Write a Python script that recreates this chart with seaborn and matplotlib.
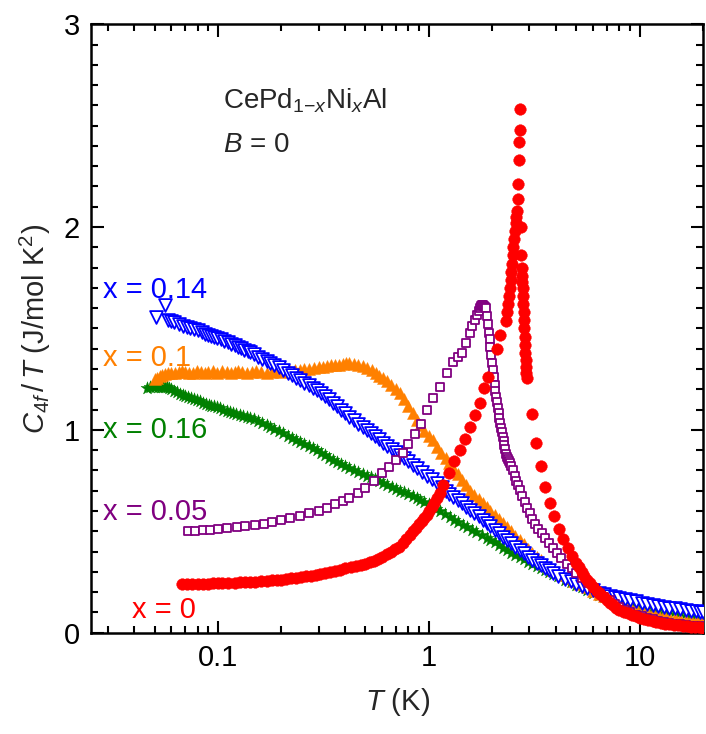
import numpy as np
import pandas as pd
import seaborn as sns
import matplotlib
matplotlib.use("Agg")
import matplotlib.pyplot as plt
from matplotlib import ticker

# -----------------------------------------------------------------------------
# Data: C_4f/T (J/mol K^2) vs T (K)
# -----------------------------------------------------------------------------

# x = 0 (filled circles)
T_x000 = [0.0675, 0.071, 0.075, 0.08, 0.085, 0.09, 0.095, 0.1, 0.105, 0.112,
          0.12, 0.127, 0.135, 0.142, 0.15, 0.16, 0.17, 0.18, 0.19, 0.2,
          0.21, 0.222, 0.235, 0.247, 0.26, 0.275, 0.29, 0.305, 0.32, 0.34,
          0.36, 0.38, 0.40, 0.425, 0.45, 0.475, 0.50, 0.525, 0.55, 0.575,
          0.60, 0.63, 0.66, 0.69, 0.72, 0.75, 0.78, 0.81, 0.84, 0.87,
          0.90, 0.925, 0.95, 0.975, 1.00, 1.03, 1.06, 1.095, 1.13, 1.17,
          1.24, 1.32, 1.40, 1.48, 1.56, 1.65, 1.75, 1.82, 1.91, 2.10,
          2.17, 2.32, 2.35, 2.38, 2.40, 2.42, 2.44, 2.46, 2.48,
          2.50, 2.52, 2.54, 2.56, 2.58, 2.60, 2.62, 2.64, 2.66, 2.68,
          2.69, 2.70, 2.71, 2.73, 2.75, 2.76, 2.77, 2.78, 2.79, 2.80,
          2.81, 2.82, 2.83, 2.84, 2.85, 2.86, 2.87, 2.88, 2.89, 2.90,
          2.91, 3.08, 3.21, 3.39, 3.55, 3.74, 3.91, 4.13, 4.31, 4.56,
          4.8, 5.0, 5.15, 5.3, 5.45, 5.6, 5.8, 6.0, 6.25, 6.5,
          6.75, 7.0, 7.25, 7.5, 7.75, 8.0, 8.4, 8.8, 9.2, 9.6,
          10.0, 10.5, 11.0, 11.5, 12.0, 12.6, 13.2, 13.8, 14.5, 15.2,
          16.0, 16.7, 17.5, 18.3, 19.1, 20.0]
C_x000 = [0.24, 0.24, 0.24, 0.241, 0.241, 0.242, 0.243, 0.244, 0.245, 0.246,
          0.247, 0.249, 0.25, 0.251, 0.252, 0.254, 0.256, 0.258, 0.26, 0.262,
          0.265, 0.268, 0.272, 0.275, 0.278, 0.281, 0.285, 0.29, 0.295, 0.30,
          0.305, 0.311, 0.318, 0.324, 0.33, 0.334, 0.34, 0.347, 0.355, 0.365,
          0.375, 0.387, 0.40, 0.412, 0.425, 0.442, 0.46, 0.48, 0.50, 0.517,
          0.535, 0.55, 0.565, 0.582, 0.60, 0.62, 0.64, 0.665, 0.69, 0.73,
          0.785, 0.845, 0.90, 0.955, 1.015, 1.074, 1.133, 1.207, 1.26, 1.40,
          1.47, 1.537, 1.58, 1.62, 1.66, 1.70, 1.74, 1.78, 1.82,
          1.86, 1.90, 1.94, 1.98, 2.02, 2.05, 2.08, 2.14, 2.21, 2.33,
          2.42, 2.48, 2.58, 2.0, 1.86, 1.80, 1.76, 1.73, 1.70, 1.66,
          1.62, 1.58, 1.54, 1.50, 1.46, 1.42, 1.38, 1.345, 1.31, 1.28,
          1.256, 1.08, 0.935, 0.82, 0.72, 0.64, 0.576, 0.51, 0.463, 0.42,
          0.38, 0.345, 0.325, 0.30, 0.28, 0.26, 0.243, 0.227, 0.208, 0.19,
          0.175, 0.16, 0.147, 0.135, 0.124, 0.113, 0.104, 0.095, 0.087, 0.08,
          0.073, 0.066, 0.061, 0.056, 0.052, 0.048, 0.045, 0.042, 0.039, 0.036,
          0.033, 0.031, 0.029, 0.028, 0.026, 0.025]

# x = 0.05 (open squares)
T_x005 = [0.072, 0.078, 0.085, 0.092, 0.10, 0.11, 0.123, 0.135, 0.15, 0.165,
          0.18, 0.20, 0.22, 0.245, 0.27, 0.30, 0.33, 0.36, 0.39, 0.42,
          0.46, 0.50, 0.55, 0.60, 0.65, 0.70, 0.75, 0.80, 0.86, 0.92,
          0.98, 1.05, 1.13, 1.22, 1.30, 1.37, 1.43, 1.50, 1.56, 1.60,
          1.65, 1.70, 1.72, 1.75, 1.77, 1.78, 1.80, 1.82, 1.84, 1.86,
          1.88, 1.90, 1.92, 1.94, 1.96, 1.98, 2.00, 2.01, 2.03, 2.05,
          2.07, 2.08, 2.10, 2.12, 2.14, 2.16, 2.18, 2.20, 2.22, 2.24,
          2.26, 2.28, 2.30, 2.33, 2.35, 2.37, 2.40, 2.42, 2.46, 2.50,
          2.55, 2.60, 2.65, 2.70, 2.77, 2.85, 2.93, 3.01, 3.10, 3.20,
          3.30, 3.43, 3.55, 3.70, 3.87, 4.04, 4.25, 4.50, 4.75, 5.0,
          5.35, 5.7, 6.05, 6.46, 6.8, 7.2, 7.6, 8.0, 8.5, 9.0,
          9.6, 10.2, 10.8, 11.5, 12.2, 13.0, 13.8, 14.7, 15.6, 16.6,
          17.5, 18.5, 19.3, 20.0]
C_x005 = [0.50, 0.502, 0.505, 0.508, 0.51, 0.515, 0.52, 0.525, 0.53, 0.537,
          0.545, 0.555, 0.565, 0.577, 0.59, 0.60, 0.615, 0.635, 0.65, 0.665,
          0.69, 0.715, 0.75, 0.785, 0.818, 0.85, 0.885, 0.93, 0.98, 1.03,
          1.10, 1.155, 1.21, 1.28, 1.335, 1.36, 1.38, 1.43, 1.48, 1.51,
          1.54, 1.565, 1.585, 1.60, 1.61, 1.615, 1.615, 1.61, 1.605, 1.60,
          1.56, 1.52, 1.48, 1.45, 1.41, 1.37, 1.33, 1.295, 1.26, 1.22,
          1.19, 1.16, 1.135, 1.11, 1.085, 1.06, 1.035, 1.01, 0.988, 0.965,
          0.945, 0.925, 0.905, 0.88, 0.868, 0.855, 0.845, 0.837, 0.82, 0.80,
          0.775, 0.75, 0.727, 0.704, 0.675, 0.645, 0.617, 0.59, 0.562, 0.535,
          0.512, 0.49, 0.466, 0.44, 0.417, 0.394, 0.367, 0.34, 0.318, 0.296,
          0.27, 0.245, 0.22, 0.197, 0.178, 0.16, 0.143, 0.128, 0.113, 0.10,
          0.089, 0.08, 0.073, 0.066, 0.06, 0.054, 0.049, 0.045, 0.041, 0.038,
          0.035, 0.033, 0.031, 0.03]

# x = 0.1 (filled up-triangles)
T_x010 = [0.050, 0.0515, 0.053, 0.0545, 0.056, 0.058, 0.06, 0.0625, 0.065, 0.0675,
          0.07, 0.073, 0.076, 0.0795, 0.083, 0.0865, 0.09, 0.0945, 0.099, 0.104,
          0.11, 0.115, 0.12, 0.125, 0.13, 0.137, 0.145, 0.152, 0.16, 0.17,
          0.18, 0.19, 0.20, 0.21, 0.22, 0.232, 0.245, 0.257, 0.27, 0.285,
          0.30, 0.315, 0.33, 0.345, 0.36, 0.375, 0.39, 0.405, 0.42, 0.44,
          0.46, 0.485, 0.51, 0.535, 0.56, 0.58, 0.605, 0.63, 0.66, 0.695,
          0.73, 0.765, 0.80, 0.84, 0.877, 0.91, 0.95, 1.0, 1.045, 1.09,
          1.145, 1.20, 1.25, 1.30, 1.37, 1.43, 1.50, 1.56, 1.64, 1.72,
          1.80, 1.88, 1.96, 2.05, 2.15, 2.24, 2.35, 2.45, 2.57, 2.70,
          2.82, 2.95, 3.10, 3.24, 3.40, 3.55, 3.70, 3.87, 4.1, 4.3,
          4.6, 4.9, 5.2, 5.6, 6.0, 6.4, 6.8, 7.2, 7.6, 8.0,
          8.5, 9.0, 9.6, 10.2, 10.8, 11.5, 12.2, 13.0, 13.8, 14.7,
          15.6, 16.6, 17.5, 18.5, 19.3, 20.0]
C_x010 = [1.25, 1.258, 1.265, 1.27, 1.275, 1.278, 1.28, 1.282, 1.283, 1.29,
          1.285, 1.28, 1.28, 1.29, 1.285, 1.28, 1.283, 1.288, 1.28, 1.29,
          1.285, 1.28, 1.283, 1.29, 1.285, 1.28, 1.283, 1.29, 1.287, 1.282,
          1.285, 1.29, 1.285, 1.288, 1.29, 1.293, 1.295, 1.298, 1.30, 1.305,
          1.31, 1.312, 1.315, 1.318, 1.32, 1.322, 1.325, 1.328, 1.33, 1.325,
          1.32, 1.313, 1.305, 1.293, 1.28, 1.268, 1.256, 1.24, 1.22, 1.20,
          1.18, 1.15, 1.12, 1.085, 1.05, 1.022, 0.995, 0.972, 0.95, 0.916,
          0.888, 0.86, 0.835, 0.81, 0.782, 0.755, 0.727, 0.70, 0.68, 0.66,
          0.64, 0.62, 0.60, 0.58, 0.56, 0.54, 0.52, 0.50, 0.479, 0.458,
          0.436, 0.415, 0.395, 0.374, 0.357, 0.34, 0.325, 0.31, 0.297, 0.285,
          0.27, 0.255, 0.241, 0.227, 0.208, 0.19, 0.179, 0.168, 0.158, 0.148,
          0.139, 0.13, 0.121, 0.113, 0.105, 0.098, 0.091, 0.085, 0.079, 0.074,
          0.069, 0.065, 0.061, 0.058, 0.056, 0.054]

# x = 0.14 (open down-triangles)
T_x014 = [0.051, 0.056, 0.058, 0.060, 0.062, 0.065, 0.068, 0.071, 0.074, 0.077,
          0.08, 0.0835, 0.087, 0.09, 0.093, 0.096, 0.099, 0.103, 0.107, 0.111,
          0.115, 0.12, 0.124, 0.128, 0.133, 0.138, 0.142, 0.148, 0.155, 0.162,
          0.17, 0.177, 0.185, 0.194, 0.204, 0.214, 0.225, 0.235, 0.245, 0.257,
          0.27, 0.282, 0.294, 0.307, 0.32, 0.335, 0.351, 0.367, 0.385, 0.402,
          0.42, 0.44, 0.46, 0.485, 0.51, 0.53, 0.555, 0.58, 0.605, 0.635,
          0.665, 0.70, 0.73, 0.765, 0.80, 0.84, 0.877, 0.93, 0.98, 1.03,
          1.09, 1.15, 1.20, 1.25, 1.30, 1.37, 1.43, 1.50, 1.56, 1.64,
          1.72, 1.80, 1.88, 1.96, 2.05, 2.15, 2.24, 2.35, 2.45, 2.57,
          2.70, 2.82, 2.95, 3.10, 3.24, 3.40, 3.55, 3.70, 3.87, 4.1,
          4.4, 4.7, 5.0, 5.3, 5.6, 6.0, 6.4, 6.8, 7.2, 7.6,
          8.0, 8.5, 9.0, 9.6, 10.2, 10.8, 11.5, 12.2, 13.0, 13.8,
          14.7, 15.6, 16.6, 17.5, 18.5, 19.3, 20.0]
C_x014 = [1.556, 1.615, 1.54, 1.535, 1.53, 1.52, 1.51, 1.505, 1.50, 1.495,
          1.49, 1.482, 1.475, 1.47, 1.465, 1.46, 1.453, 1.447, 1.44, 1.432,
          1.425, 1.417, 1.41, 1.402, 1.395, 1.39, 1.384, 1.372, 1.36, 1.35,
          1.34, 1.33, 1.32, 1.308, 1.295, 1.282, 1.27, 1.258, 1.246, 1.233,
          1.22, 1.208, 1.197, 1.18, 1.165, 1.15, 1.133, 1.117, 1.10, 1.082,
          1.064, 1.047, 1.03, 1.015, 1.0, 0.985, 0.97, 0.953, 0.936, 0.92,
          0.905, 0.89, 0.877, 0.861, 0.845, 0.828, 0.81, 0.792, 0.775, 0.757,
          0.739, 0.72, 0.70, 0.685, 0.67, 0.654, 0.638, 0.622, 0.606, 0.59,
          0.575, 0.558, 0.542, 0.525, 0.508, 0.49, 0.473, 0.456, 0.44, 0.424,
          0.409, 0.392, 0.375, 0.36, 0.345, 0.332, 0.32, 0.308, 0.296, 0.28,
          0.265, 0.253, 0.242, 0.232, 0.222, 0.21, 0.198, 0.19, 0.183, 0.177,
          0.172, 0.166, 0.16, 0.154, 0.148, 0.143, 0.138, 0.133, 0.128, 0.124,
          0.12, 0.115, 0.111, 0.108, 0.106, 0.104, 0.103]

# x = 0.16 (filled stars)
T_x016 = [0.046, 0.0475, 0.049, 0.0505, 0.052, 0.0535, 0.055, 0.056, 0.057, 0.0585,
          0.06, 0.062, 0.064, 0.066, 0.068, 0.070, 0.072, 0.0745, 0.077, 0.0795,
          0.082, 0.085, 0.088, 0.0905, 0.093, 0.096, 0.099, 0.1025, 0.106, 0.11,
          0.114, 0.118, 0.122, 0.127, 0.132, 0.137, 0.142, 0.148, 0.155, 0.162,
          0.17, 0.177, 0.185, 0.194, 0.204, 0.214, 0.225, 0.235, 0.245, 0.257,
          0.27, 0.282, 0.294, 0.307, 0.32, 0.335, 0.35, 0.367, 0.385, 0.402,
          0.42, 0.44, 0.46, 0.485, 0.51, 0.53, 0.555, 0.58, 0.605, 0.635,
          0.665, 0.70, 0.73, 0.765, 0.80, 0.84, 0.877, 0.91, 0.95, 1.0,
          1.04, 1.085, 1.13, 1.19, 1.26, 1.32, 1.38, 1.45, 1.52, 1.60,
          1.68, 1.78, 1.88, 1.96, 2.05, 2.15, 2.25, 2.35, 2.45, 2.57,
          2.70, 2.82, 2.95, 3.10, 3.24, 3.40, 3.55, 3.70, 3.87, 4.1,
          4.4, 4.7, 5.0, 5.3, 5.6, 6.0, 6.4, 6.8, 7.2, 7.6,
          8.0, 8.5, 9.0, 9.6, 10.2, 10.8, 11.5, 12.2, 13.0, 13.8,
          14.7, 15.6, 16.6, 17.5, 18.5, 19.3, 20.0]
C_x016 = [1.207, 1.21, 1.21, 1.213, 1.212, 1.21, 1.21, 1.21, 1.21, 1.205,
          1.20, 1.19, 1.185, 1.178, 1.17, 1.165, 1.16, 1.155, 1.15, 1.145,
          1.14, 1.133, 1.127, 1.123, 1.12, 1.116, 1.113, 1.106, 1.10, 1.095,
          1.09, 1.085, 1.08, 1.075, 1.07, 1.065, 1.06, 1.052, 1.045, 1.035,
          1.025, 1.015, 1.005, 0.995, 0.985, 0.972, 0.96, 0.95, 0.94, 0.93,
          0.92, 0.91, 0.90, 0.888, 0.875, 0.862, 0.85, 0.84, 0.83, 0.82,
          0.81, 0.80, 0.79, 0.782, 0.775, 0.766, 0.757, 0.748, 0.739, 0.73,
          0.72, 0.71, 0.70, 0.692, 0.683, 0.674, 0.665, 0.655, 0.645, 0.633,
          0.62, 0.61, 0.60, 0.585, 0.571, 0.558, 0.545, 0.532, 0.52, 0.507,
          0.495, 0.481, 0.468, 0.456, 0.445, 0.432, 0.42, 0.407, 0.395, 0.384,
          0.374, 0.362, 0.35, 0.34, 0.33, 0.32, 0.31, 0.30, 0.29, 0.278,
          0.262, 0.248, 0.235, 0.223, 0.212, 0.198, 0.185, 0.176, 0.168, 0.16,
          0.153, 0.147, 0.142, 0.137, 0.132, 0.127, 0.123, 0.118, 0.114, 0.11,
          0.105, 0.101, 0.097, 0.094, 0.092, 0.09, 0.089]

# -----------------------------------------------------------------------------
# Style
# -----------------------------------------------------------------------------

sns.set_style("ticks")
plt.rcParams["font.family"] = ["Liberation Sans", "DejaVu Sans"]
plt.rcParams["mathtext.fontset"] = "custom"
plt.rcParams["mathtext.rm"] = "Liberation Sans"
plt.rcParams["mathtext.it"] = "Liberation Sans:italic"

fig = plt.figure(figsize=(7.06, 7.34), dpi=100)
ax = fig.add_axes([0.129, 0.138, 0.867, 0.829])

# drawing order: bottom to top
series = [
    (T_x016, C_x016, "*", "#008000", True, 95),
    (T_x010, C_x010, "^", "#ff8000", True, 75),
    (T_x014, C_x014, "v", "#0000ff", False, 85),
    (T_x005, C_x005, "s", "#800080", False, 40),
    (T_x000, C_x000, "o", "#ff0000", True, 70),
]

for T, C, mk, col, filled, size in series:
    df = pd.DataFrame({"T": T, "C": C})
    if filled:
        sns.scatterplot(data=df, x="T", y="C", ax=ax, marker=mk, s=size,
                        color=col, edgecolor=col, linewidth=0.3, zorder=3)
    else:
        sns.scatterplot(data=df, x="T", y="C", ax=ax, marker=mk, s=size,
                        facecolor="white", edgecolor=col, linewidth=1.3,
                        zorder=3)

ax.set_xscale("log")
ax.set_xlim(0.025, 20)
ax.set_ylim(0, 3)

ax.xaxis.set_major_locator(ticker.FixedLocator([0.1, 1, 10]))
ax.xaxis.set_major_formatter(ticker.FuncFormatter(lambda v, _: f"{v:g}"))
ax.xaxis.set_minor_locator(ticker.LogLocator(base=10, subs=np.arange(2, 10)))
ax.xaxis.set_minor_formatter(ticker.NullFormatter())
ax.yaxis.set_major_locator(ticker.MultipleLocator(1))
ax.yaxis.set_minor_locator(ticker.MultipleLocator(0.1))

ax.tick_params(which="both", direction="in", top=True, right=True,
               width=1.5, labelsize=21, colors="black")
ax.tick_params(which="major", length=9, pad=8)
ax.tick_params(which="minor", length=5)
for sp in ax.spines.values():
    sp.set_linewidth(1.8)
    sp.set_color("black")

ax.set_xlabel(r"$T$ (K)", fontsize=21, labelpad=10)
ax.set_ylabel(r"$C_{4f}\,/\,T$ (J/mol K$^2$)", fontsize=21, labelpad=8)

# series labels
labels = [
    ("x = 0.14", "#0000ff", 0.020, 0.563),
    ("x = 0.1", "#ff8000", 0.020, 0.452),
    ("x = 0.16", "#008000", 0.020, 0.333),
    ("x = 0.05", "#800080", 0.020, 0.199),
    ("x = 0", "#ff0000", 0.067, 0.038),
]
for txt, col, xf, yf in labels:
    ax.text(xf, yf, txt, color=col, fontsize=21, transform=ax.transAxes,
            ha="left", va="center")

ax.text(0.215, 0.875, r"CePd$_{1\mathrm{-}x}$Ni$_{x}$Al", fontsize=20,
        transform=ax.transAxes, ha="left", va="center")
ax.text(0.215, 0.802, r"$B$ = 0", fontsize=20,
        transform=ax.transAxes, ha="left", va="center")

fig.savefig("out.png", dpi=100)
